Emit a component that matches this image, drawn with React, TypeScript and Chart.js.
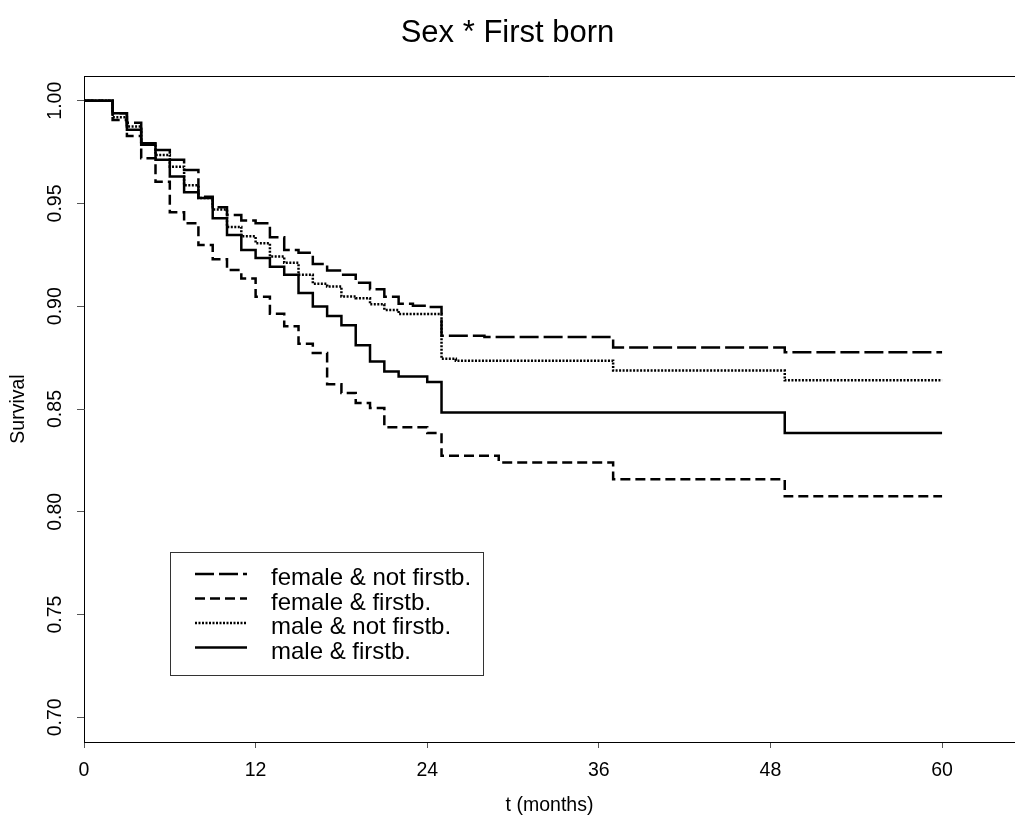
import React, { useEffect, useRef } from "react";
import { Chart, registerables } from "chart.js";

Chart.register(...registerables);

// ---- Data (Kaplan-Meier survival step functions) ----
const chartTitle = "Sex * First born";
const xAxisTitle = "t (months)";
const yAxisTitle = "Survival";

const seriesLabels = [
  "female & not firstb.",
  "female & firstb.",
  "male & not firstb.",
  "male & firstb.",
];

const femaleNotFirstTimes = [0, 2, 3, 4, 5, 6, 7, 8, 9, 10, 11, 12, 13, 14, 15, 16, 17, 18, 19, 20, 21, 22, 23, 24, 25, 28, 37, 49, 60];
const femaleNotFirstSurv = [1.0, 0.9939, 0.9893, 0.9793, 0.976, 0.9712, 0.9663, 0.9533, 0.9482, 0.9444, 0.9417, 0.9404, 0.9336, 0.9274, 0.926, 0.9206, 0.9174, 0.9153, 0.9114, 0.9083, 0.9046, 0.9012, 0.9002, 0.8996, 0.8856, 0.885, 0.8799, 0.8776, 0.8776];

const femaleFirstTimes = [0, 2, 3, 4, 5, 6, 7, 8, 9, 10, 11, 12, 13, 14, 15, 16, 17, 18, 19, 20, 21, 24, 25, 29, 37, 49, 60];
const femaleFirstSurv = [1.0, 0.9906, 0.9828, 0.972, 0.9605, 0.9457, 0.9404, 0.9298, 0.9229, 0.9176, 0.9135, 0.9046, 0.8963, 0.8903, 0.8817, 0.8773, 0.862, 0.8578, 0.8529, 0.8505, 0.8411, 0.8383, 0.8273, 0.824, 0.8158, 0.8075, 0.8075];

const maleNotFirstTimes = [0, 2, 3, 4, 5, 6, 7, 8, 9, 10, 11, 12, 13, 14, 15, 16, 17, 18, 19, 20, 21, 22, 25, 26, 37, 49, 60];
const maleNotFirstSurv = [1.0, 0.9919, 0.9874, 0.9789, 0.9736, 0.9679, 0.9588, 0.9526, 0.9471, 0.9386, 0.934, 0.9306, 0.9242, 0.9211, 0.9153, 0.9109, 0.9096, 0.9047, 0.9039, 0.9009, 0.8982, 0.8962, 0.8744, 0.8735, 0.8687, 0.864, 0.864];

const maleFirstTimes = [0, 2, 3, 4, 5, 6, 7, 8, 9, 10, 11, 12, 13, 14, 15, 16, 17, 18, 19, 20, 21, 22, 24, 25, 49, 60];
const maleFirstSurv = [1.0, 0.9939, 0.9858, 0.9785, 0.9712, 0.9631, 0.9555, 0.9526, 0.9428, 0.9347, 0.9274, 0.9234, 0.9192, 0.9153, 0.9064, 0.8999, 0.8952, 0.8907, 0.881, 0.8731, 0.8683, 0.8658, 0.8631, 0.8483, 0.8383, 0.8383];

const xTickValues = [0, 12, 24, 36, 48, 60];
const yTickValues = [0.7, 0.75, 0.8, 0.85, 0.9, 0.95, 1.0];

// ---- Styling ----
const FONT = "'Liberation Sans', Arial, sans-serif";

const toPoints = (t: number[], s: number[]) => t.map((x, i) => ({ x, y: s[i] }));

const legendBoxPlugin = {
  id: "legendBox",
  afterDatasetsDraw(chart: any) {
    const ctx = chart.ctx as CanvasRenderingContext2D;
    ctx.save();
    const bx = 170.5, by = 552.5, bw = 313, bh = 123;
    ctx.fillStyle = "#ffffff";
    ctx.fillRect(bx, by, bw, bh);
    ctx.strokeStyle = "#333333";
    ctx.lineWidth = 1;
    ctx.setLineDash([]);
    ctx.strokeRect(bx, by, bw, bh);
    chart.data.datasets.forEach((ds: any, i: number) => {
      const base = 585 + i * 24.5;
      const ly = base - 11;
      ctx.setLineDash(ds.borderDash || []);
      ctx.lineWidth = ds.borderWidth;
      ctx.strokeStyle = ds.borderColor;
      ctx.lineCap = "butt";
      ctx.beginPath();
      ctx.moveTo(195, ly);
      ctx.lineTo(247, ly);
      ctx.stroke();
      ctx.setLineDash([]);
      ctx.fillStyle = "#000";
      ctx.font = `24px ${FONT}`;
      ctx.textAlign = "left";
      ctx.textBaseline = "alphabetic";
      ctx.fillText(ds.label, 271, base);
    });
    ctx.restore();
  },
};

const topBorderPlugin = {
  id: "topBorder",
  afterDraw(chart: any) {
    const ctx = chart.ctx as CanvasRenderingContext2D;
    const { left, right, top } = chart.chartArea;
    ctx.save();
    ctx.strokeStyle = "#000";
    ctx.lineWidth = 1;
    ctx.beginPath();
    ctx.moveTo(left, Math.round(top) + 0.5);
    ctx.lineTo(right, Math.round(top) + 0.5);
    ctx.stroke();
    ctx.restore();
  },
};

export default function App() {
  const ref = useRef<HTMLCanvasElement>(null);

  useEffect(() => {
    if (!ref.current) return;
    const common = {
      borderColor: "#000000",
      borderWidth: 2.5,
      pointRadius: 0,
      pointHoverRadius: 0,
      fill: false,
      stepped: true as const,
      tension: 0,
      borderCapStyle: "butt" as const,
    };
    const chart = new Chart(ref.current, {
      type: "line",
      data: {
        datasets: [
          { ...common, label: seriesLabels[0], data: toPoints(femaleNotFirstTimes, femaleNotFirstSurv), borderDash: [19, 5] },
          { ...common, label: seriesLabels[1], data: toPoints(femaleFirstTimes, femaleFirstSurv), borderDash: [10, 5] },
          { ...common, label: seriesLabels[2], data: toPoints(maleNotFirstTimes, maleNotFirstSurv), borderDash: [2, 1.5] },
          { ...common, label: seriesLabels[3], data: toPoints(maleFirstTimes, maleFirstSurv), borderDash: [] },
        ],
      },
      options: {
        responsive: false,
        devicePixelRatio: 1,
        animation: false,
        parsing: false,
        layout: { padding: 0 },
        plugins: {
          legend: { display: false },
          tooltip: { enabled: false },
          title: {
            display: true,
            text: chartTitle,
            color: "#000",
            font: { family: FONT, size: 31, weight: "normal" },
            padding: { top: 14.5, bottom: 24.3 },
          },
        },
        scales: {
          x: {
            type: "linear",
            min: 0,
            max: 65.1,
            afterBuildTicks: (s: any) => {
              s.ticks = xTickValues.map((v) => ({ value: v }));
            },
            afterFit: (s: any) => {
              s.height = 77;
            },
            ticks: {
              color: "#000",
              font: { family: FONT, size: 19.5 },
              padding: 10.5,
              maxRotation: 0,
              autoSkip: false,
              callback: (v: any) => String(v),
            },
            grid: { display: true, drawOnChartArea: false, drawTicks: true, tickLength: 6, color: "#555", lineWidth: 1 },
            border: { display: true, color: "#000", width: 1 },
            title: {
              display: true,
              text: xAxisTitle,
              color: "#000",
              font: { family: FONT, size: 19.5 },
              padding: { top: 0, bottom: 1.5 },
            },
          },
          y: {
            type: "linear",
            min: 0.688,
            max: 1.012,
            afterBuildTicks: (s: any) => {
              s.ticks = yTickValues.map((v) => ({ value: v }));
            },
            afterFit: (s: any) => {
              s.width = 84;
            },
            ticks: {
              color: "#000",
              font: { family: FONT, size: 19.5 },
              padding: 2,
              minRotation: 90,
              maxRotation: 90,
              crossAlign: "center",
              autoSkip: false,
              callback: (v: any) => Number(v).toFixed(2),
            },
            grid: { display: true, drawOnChartArea: false, drawTicks: true, tickLength: 7, color: "#555", lineWidth: 1 },
            border: { display: true, color: "#000", width: 1 },
            title: {
              display: true,
              text: yAxisTitle,
              color: "#000",
              font: { family: FONT, size: 19.5 },
              padding: { top: 6.5, bottom: 0 },
            },
          },
        },
      },
      plugins: [legendBoxPlugin, topBorderPlugin],
    } as any);
    return () => chart.destroy();
  }, []);

  return (
    <div style={{ position: "absolute", left: 0, top: 0, width: 1015, height: 819 }}>
      <canvas ref={ref} width={1015} height={819} style={{ display: "block", width: 1015, height: 819 }} />
    </div>
  );
}
